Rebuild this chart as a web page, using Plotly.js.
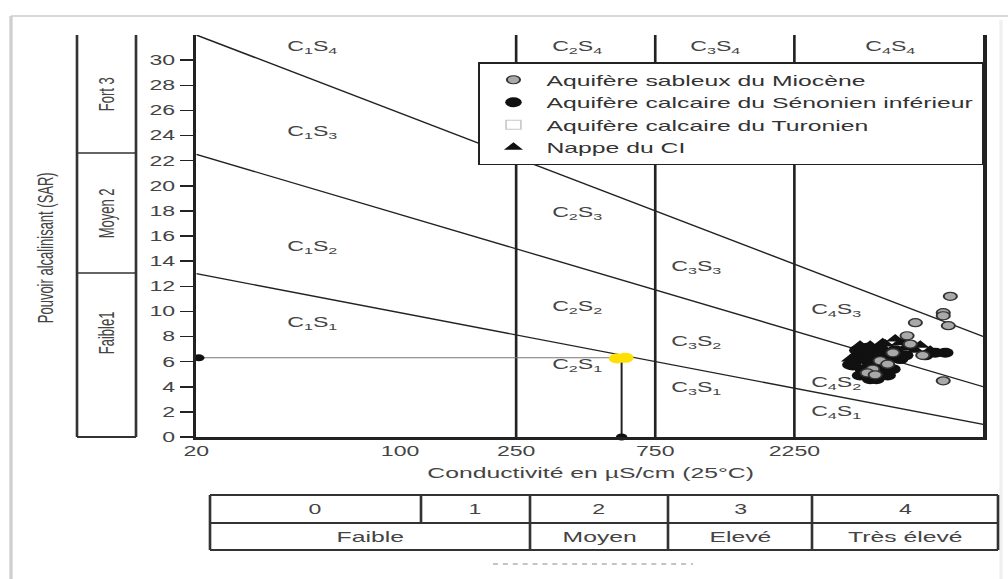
<!DOCTYPE html>
<html>
<head>
<meta charset="utf-8">
<script src="https://cdn.plot.ly/plotly-3.0.1.min.js"></script>
<style>
html,body{margin:0;padding:0;background:#fff;}
#wrap{width:1008px;height:579px;overflow:hidden;position:relative;}
#plot{width:611px;height:579px;transform-origin:0 0;}
</style>
</head>
<body>
<div id="wrap"><div id="plot"></div></div>
<script>
// ---------- data ----------
const condRange = [20, 10000];                 // conductivity axis (µS/cm)
const condTicks = [20, 100, 250, 750, 2250, 10000];
const condTickText = ['20', '100', '250', '750', '2250', '10000'];
const sarTicks = [0, 2, 4, 6, 8, 10, 12, 14, 16, 18, 20, 22, 24, 26, 28, 30];
const sarMax = 32;

// SAR boundary lines (value at EC = 20 and EC = 10000)
const boundS1S2 = [13, 1];
const boundS2S3 = [22.5, 4];
const boundS3S4 = [32, 8];
// salinity class limits
const classLimits = [250, 750, 2250];

// zone labels
const zoneText = ['C<sub>1</sub>S<sub>4</sub>', 'C<sub>1</sub>S<sub>3</sub>', 'C<sub>1</sub>S<sub>2</sub>', 'C<sub>1</sub>S<sub>1</sub>',
                  'C<sub>2</sub>S<sub>4</sub>', 'C<sub>2</sub>S<sub>3</sub>', 'C<sub>2</sub>S<sub>2</sub>', 'C<sub>2</sub>S<sub>1</sub>',
                  'C<sub>3</sub>S<sub>4</sub>', 'C<sub>3</sub>S<sub>3</sub>', 'C<sub>3</sub>S<sub>2</sub>', 'C<sub>3</sub>S<sub>1</sub>',
                  'C<sub>4</sub>S<sub>4</sub>', 'C<sub>4</sub>S<sub>3</sub>', 'C<sub>4</sub>S<sub>2</sub>', 'C<sub>4</sub>S<sub>1</sub>'];
const zoneEC  = [50, 50, 50, 50, 405, 405, 405, 405, 1205, 1037, 1037, 1037, 4800, 3130, 3130, 3130];
const zoneSAR = [31.0, 24.2, 15.1, 9.0, 31.0, 17.8, 10.3, 5.67, 31.0, 13.5, 7.5, 3.83, 31.0, 10.06, 4.23, 1.92];

// samples
const mioceneEC  = [7710, 7290, 7290, 5850, 7590, 5480, 5620, 6200, 4900, 4430, 4700, 4180, 4000, 4260, 7290];
const mioceneSAR = [11.2, 9.9, 9.65, 9.1, 8.86, 8.06, 7.4, 6.5, 6.7, 6.07, 5.8, 5.4, 5.1, 4.95, 4.47];
const senonienEC  = [3640, 3780, 3860, 4095, 3940, 4260, 4350, 4610, 4700, 4430, 4020, 3570, 6840, 7410, 6320, 5400, 4095, 3700,
                     4500, 3700, 3940, 4180, 4430, 4610, 4990, 3780, 4300, 4880, 5190, 3500];
const senonienSAR = [6.1, 6.7, 5.4, 5.9, 5.1, 6.5, 5.1, 5.7, 4.9, 7.0, 7.1, 5.7, 6.7, 6.7, 6.5, 6.5, 4.6, 6.4,
                     5.4, 6.9, 6.2, 5.6, 5.3, 6.4, 6.9, 4.9, 4.6, 5.4, 6.2, 5.75];
const turonienEC  = [4300];
const turonienSAR = [5.9];
const ciEC  = [4610, 4990, 5190, 5850, 3780, 3500, 4260, 4800, 7120, 6580, 6080, 5400, 4520, 5400, 4095];
const ciSAR = [7.4, 7.8, 7.5, 6.9, 7.3, 6.2, 6.7, 6.1, 6.6, 6.9, 7.3, 7.6, 7.5, 7.1, 7.3];

// highlighted sample and its reading lines
const yellowEC  = [555, 592];
const yellowSAR = [6.25, 6.3];
const readEC = 575;
const readSAR = 6.3;

// side tables
const sodiumLabels = ['Fort 3', 'Moyen 2', 'Faible1'];
const salinityClasses = ['0', '1', '2', '3', '4'];
const salinityLabels = ['Faible', 'Moyen', 'Elevé', 'Très élevé'];

// ---------- layout helpers (page decoration positions) ----------
const W = 611, H = 579, SX = 1008 / W;
const ML = 119, MR = 15, MT = 35, MB = 142;
const PW = W - ML - MR, PH = H - MT - MB;
function PX(xr) { return (xr / SX - ML) / PW; }
function PY(yr) { return (437 - yr) / PH; }

const FONT = 'Liberation Sans, Arial, Helvetica, sans-serif';
const INK = '#222';
const TXT = '#444';

// ---------- traces ----------
const traces = [];
[boundS1S2, boundS2S3, boundS3S4].forEach(b => {
  traces.push({x: condRange, y: b, mode: 'lines', line: {color: INK, width: 1.3},
               showlegend: false, hoverinfo: 'skip'});
});
const vx = [], vy = [];
classLimits.forEach(c => { vx.push(c, c, null); vy.push(0, sarMax, null); });
traces.push({x: vx, y: vy, mode: 'lines', line: {color: INK, width: 1.6}, showlegend: false, hoverinfo: 'skip'});

// reading lines
traces.push({x: [condRange[0], readEC], y: [readSAR, readSAR], mode: 'lines',
             line: {color: '#777', width: 1}, showlegend: false, hoverinfo: 'skip'});
traces.push({x: [readEC, readEC], y: [readSAR, 0], mode: 'lines',
             line: {color: INK, width: 1.2}, showlegend: false, hoverinfo: 'skip'});
traces.push({x: [condRange[0] * 1.02, readEC], y: [readSAR, 0], mode: 'markers', cliponaxis: false,
             marker: {color: '#111', size: 7}, showlegend: false, hoverinfo: 'skip'});

// zone labels
traces.push({x: zoneEC, y: zoneSAR, mode: 'text', text: zoneText, cliponaxis: false,
             textfont: {family: FONT, size: 14, color: TXT}, showlegend: false, hoverinfo: 'skip'});

// samples
traces.push({name: 'Aquifère calcaire du Turonien', x: turonienEC, y: turonienSAR, mode: 'markers',
             marker: {symbol: 'square-open', color: '#c8c8c8', size: 9, line: {width: 1}}, legendrank: 3});
traces.push({name: 'Aquifère calcaire du Sénonien inférieur', x: senonienEC, y: senonienSAR, mode: 'markers',
             marker: {symbol: 'circle', color: '#111', size: 10}, legendrank: 2});
traces.push({name: 'Nappe du CI', x: ciEC, y: ciSAR, mode: 'markers',
             marker: {symbol: 'triangle-up', color: '#111', size: 10}, legendrank: 4});
traces.push({name: 'Aquifère sableux du Miocène', x: mioceneEC, y: mioceneSAR, mode: 'markers',
             marker: {symbol: 'circle', color: '#a9a9a9', size: 8, line: {color: '#333', width: 1.2}}, legendrank: 1});
traces.push({x: yellowEC, y: yellowSAR, mode: 'markers', cliponaxis: false,
             marker: {color: '#ffe000', size: 10}, showlegend: false, hoverinfo: 'skip'});

// ---------- decorations ----------
const shapes = [];
function pline(x0, y0, x1, y1, color, width, dash) {
  shapes.push({type: 'line', xref: 'paper', yref: 'paper', x0: PX(x0), y0: PY(y0), x1: PX(x1), y1: PY(y1),
               line: {color: color, width: width, dash: dash || 'solid'}});
}
// photo frame
pline(11, 16, 1010, 16, '#d8d8d8', 2);
pline(11, 16, 11, 580, '#cfcfcf', 2);
pline(1001, 20, 1001, 580, '#f0f0f0', 2);
// left sodium column
pline(77, 35, 77, 437, '#333', 1.6);
pline(136, 35, 136, 437, '#333', 1.6);
pline(77, 153, 136, 153, '#333', 1.6);
pline(77, 273, 136, 273, '#333', 1.6);
pline(77, 437, 136, 437, '#333', 2.2);
// bottom salinity table
pline(210, 495, 998, 495, '#333', 2);
pline(210, 523, 998, 523, '#333', 2);
pline(210, 550, 998, 550, '#333', 2);
[210, 530, 668, 812, 998].forEach(x => pline(x, 495, x, 550, '#333', 1.6));
pline(421, 495, 421, 523, '#333', 1.6);
// clipped caption remnant
pline(493, 564, 693, 564, '#c4c4c4', 2, 'dot');

const annotations = [];
function ptext(text, xr, yr, size, angle) {
  annotations.push({text: text, xref: 'paper', yref: 'paper', x: PX(xr), y: PY(yr), showarrow: false,
                    xanchor: 'center', yanchor: 'middle', textangle: angle || 0,
                    font: {family: FONT, size: size, color: TXT}});
}
ptext('Pouvoir alcalinisant (SAR)', 45, 248, 13, -90);
ptext('Conductivité en µS/cm (25°C)', 591, 472, 15);
ptext(sodiumLabels[0], 106, 94, 13, -90);
ptext(sodiumLabels[1], 106, 213, 13, -90);
ptext(sodiumLabels[2], 106, 333, 13, -90);
const classX = [315, 475, 599, 740, 905];
salinityClasses.forEach((t, i) => ptext(t, classX[i], 509, 14));
const labelX = [370, 599, 740, 905];
salinityLabels.forEach((t, i) => ptext(t, labelX[i], 536, 15));

const layout = {
  width: W, height: H,
  margin: {l: ML, r: MR, t: MT, b: MB, pad: 0},
  paper_bgcolor: '#fff', plot_bgcolor: '#fff',
  font: {family: FONT, color: TXT},
  showlegend: true,
  legend: {x: PX(478), y: PY(62), xanchor: 'left', yanchor: 'top',
           bgcolor: '#fff', bordercolor: INK, borderwidth: 1.5,
           font: {family: FONT, size: 15, color: '#333'}, tracegroupgap: 0},
  xaxis: {type: 'log', range: [Math.log10(condRange[0]), Math.log10(condRange[1])],
          tickvals: condTicks, ticktext: condTickText, ticks: '', showgrid: false, zeroline: false,
          showline: true, linecolor: INK, linewidth: 2.5, automargin: false, fixedrange: true,
          tickfont: {family: FONT, size: 14, color: TXT}},
  yaxis: {range: [0, sarMax], tickvals: sarTicks, ticks: 'outside', ticklen: 8, tickwidth: 1.5, tickcolor: INK,
          showgrid: false, zeroline: false, showline: true, mirror: true, linecolor: INK, linewidth: 2,
          automargin: false, fixedrange: true, tickfont: {family: FONT, size: 14, color: TXT}},
  shapes: shapes,
  annotations: annotations
};

Plotly.newPlot('plot', traces, layout, {displayModeBar: false, staticPlot: true}).then(() => {
  document.getElementById('plot').style.transform = 'scaleX(' + SX + ')';
});
</script>
</body>
</html>
